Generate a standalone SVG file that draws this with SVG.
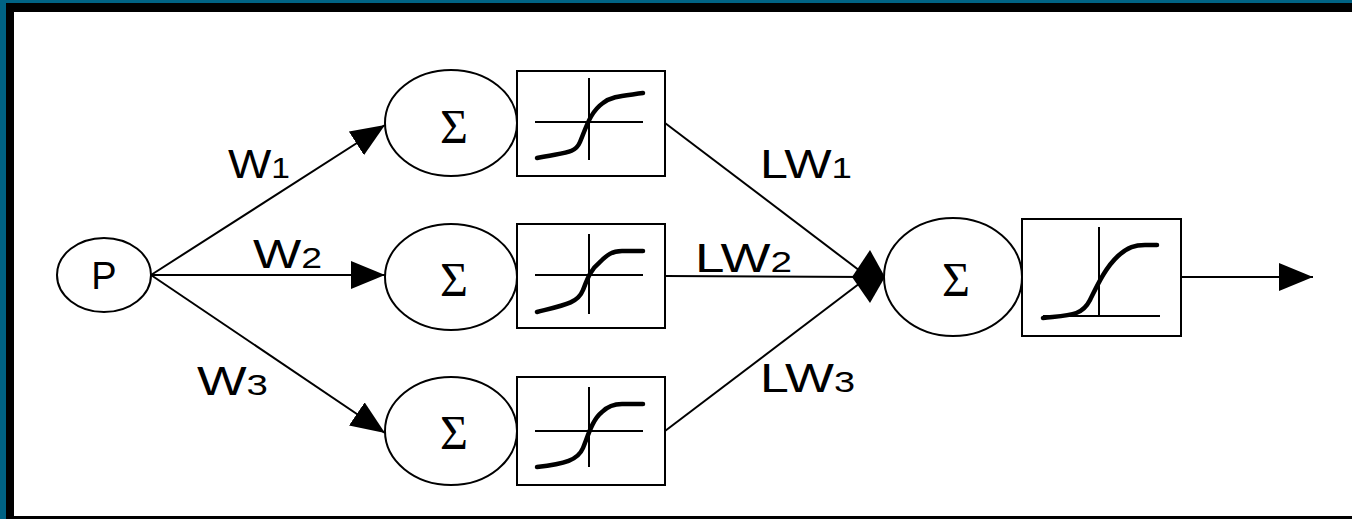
<svg xmlns="http://www.w3.org/2000/svg" width="1352" height="519" viewBox="0 0 1352 519">
<style>
.node{fill:#fff;stroke:#000;stroke-width:2}
.ax{stroke:#000;stroke-width:2;fill:none}
.crv{stroke:#000;stroke-width:4.5;fill:none;stroke-linecap:round;stroke-linejoin:round}
.edge{stroke:#000;stroke-width:2;fill:none}
.lbl{font-family:"Liberation Sans",Arial,sans-serif;font-size:41px;fill:#000}
.sub{font-size:30px}
.sig{font-family:"Liberation Serif","Times New Roman",serif;font-size:48px;fill:#000;text-anchor:middle}
</style>
<defs>
<marker id="arr" markerUnits="userSpaceOnUse" markerWidth="36" markerHeight="30" refX="34" refY="14" orient="auto">
<path d="M0,0 L34,14 L0,28 Z" fill="#000"/>
</marker>
</defs>
<rect x="0" y="0" width="1352" height="519" fill="#006384"/>
<rect x="6" y="3" width="1360" height="520" fill="#000"/>
<rect x="14" y="12" width="1360" height="504" fill="#fff"/>

<g id="connectors">
<line class="edge" x1="151" y1="275" x2="385" y2="125" marker-end="url(#arr)"/>
<line class="edge" x1="151" y1="275" x2="385" y2="275" marker-end="url(#arr)"/>
<line class="edge" x1="151" y1="275" x2="385" y2="433" marker-end="url(#arr)"/>
<line class="edge" x1="665" y1="123" x2="868" y2="277"/>
<line class="edge" x1="665" y1="276" x2="868" y2="277"/>
<line class="edge" x1="665" y1="431" x2="868" y2="277"/>
<line class="edge" x1="1181" y1="277" x2="1313" y2="277" marker-end="url(#arr)"/>
<path d="M870,250 L885,277 L870,303 L852,277 Z" fill="#000"/>
<text class="lbl" x="228" y="178" textLength="62" lengthAdjust="spacingAndGlyphs">W<tspan class="sub">1</tspan></text>
<text class="lbl" x="253" y="268" textLength="69" lengthAdjust="spacingAndGlyphs">W<tspan class="sub">2</tspan></text>
<text class="lbl" x="197" y="395" textLength="71" lengthAdjust="spacingAndGlyphs">W<tspan class="sub">3</tspan></text>
<text class="lbl" x="760" y="178" textLength="92" lengthAdjust="spacingAndGlyphs">LW<tspan class="sub">1</tspan></text>
<text class="lbl" x="695" y="272" textLength="97" lengthAdjust="spacingAndGlyphs">LW<tspan class="sub">2</tspan></text>
<text class="lbl" x="760" y="392" textLength="95" lengthAdjust="spacingAndGlyphs">LW<tspan class="sub">3</tspan></text>
</g>

<g id="P">
<ellipse class="node" cx="104" cy="275" rx="47" ry="37"/>
<text class="lbl" x="104" y="289" text-anchor="middle" style="font-size:38px">P</text>
</g>

<g id="sum1">
<ellipse class="node" cx="451" cy="123" rx="66" ry="53"/>
<text class="sig" x="454" y="143">Σ</text>
</g>
<g id="tf1">
<rect class="node" x="517" y="71" width="148" height="105"/>
<line class="ax" x1="535" y1="122" x2="643" y2="122"/>
<line class="ax" x1="589" y1="78" x2="589" y2="160"/>
<path class="crv" d="M537,158 C565,152 575,154 580,142 C586,128 590,112 603,103 C612,96 622,96 643,93"/>
</g>

<g id="sum2">
<ellipse class="node" cx="451" cy="277" rx="66" ry="53"/>
<text class="sig" x="454" y="296">Σ</text>
</g>
<g id="tf2">
<rect class="node" x="517" y="224" width="148" height="104"/>
<line class="ax" x1="535" y1="275" x2="643" y2="275"/>
<line class="ax" x1="589" y1="234" x2="589" y2="314"/>
<path class="crv" d="M537,312 C565,305 578,303 583,290 C587,280 590,270 600,262 C607,255 612,251 622,251 L643,251"/>
</g>

<g id="sum3">
<ellipse class="node" cx="451" cy="431" rx="66" ry="54"/>
<text class="sig" x="454" y="449">Σ</text>
</g>
<g id="tf3">
<rect class="node" x="517" y="377" width="148" height="108"/>
<line class="ax" x1="535" y1="431" x2="643" y2="431"/>
<line class="ax" x1="589" y1="387" x2="589" y2="467"/>
<path class="crv" d="M537,467 C565,464 578,460 583,448 C588,436 592,420 602,412 C608,406 614,404 622,404 L643,404"/>
</g>

<g id="sum4">
<ellipse class="node" cx="953" cy="277" rx="69" ry="59"/>
<text class="sig" x="956" y="296">Σ</text>
</g>
<g id="tf4">
<rect class="node" x="1022" y="219" width="159" height="117"/>
<line class="ax" x1="1043" y1="316" x2="1160" y2="316"/>
<line class="ax" x1="1099" y1="227" x2="1099" y2="316"/>
<path class="crv" d="M1043,318 C1070,315 1082,316 1090,300 C1097,286 1105,268 1118,256 C1128,247 1135,245 1145,245 L1157,245"/>
</g>
</svg>
